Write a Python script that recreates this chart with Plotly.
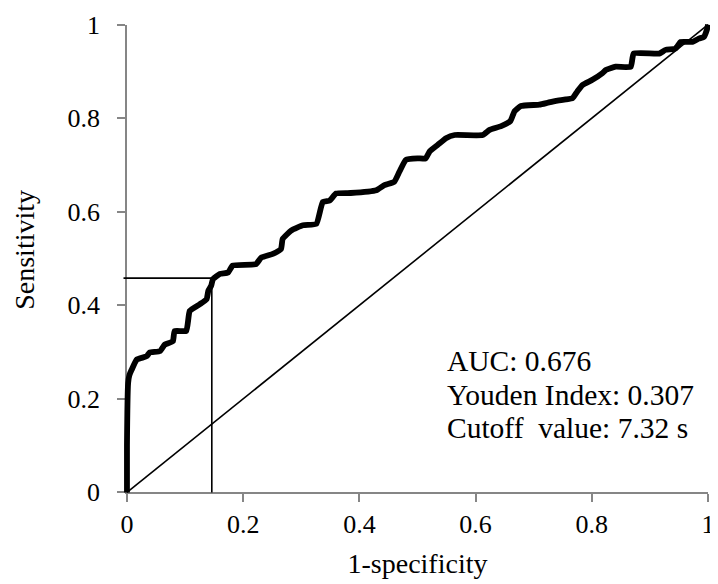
import plotly.graph_objects as go

# ROC curve points (1-specificity, sensitivity)
fpr = [0.0, 0.0, 0.002, 0.004, 0.008, 0.017, 0.034, 0.039, 0.057, 0.065, 0.079, 0.082, 0.102,
       0.108, 0.125, 0.137, 0.140, 0.145, 0.148, 0.160, 0.174, 0.182, 0.222, 0.231, 0.251,
       0.265, 0.268, 0.283, 0.303, 0.326, 0.337, 0.349, 0.360, 0.385, 0.429, 0.443, 0.460,
       0.469, 0.480, 0.500, 0.514, 0.521, 0.535, 0.549, 0.564, 0.612, 0.624, 0.644, 0.660,
       0.667, 0.678, 0.710, 0.724, 0.738, 0.755, 0.767, 0.775, 0.784, 0.801, 0.818, 0.824,
       0.841, 0.867, 0.872, 0.916, 0.927, 0.944, 0.953, 0.973, 0.984, 0.993, 0.998, 1.0]
tpr = [0.0, 0.10, 0.234, 0.250, 0.262, 0.284, 0.291, 0.299, 0.302, 0.316, 0.323, 0.345, 0.345,
       0.388, 0.402, 0.413, 0.431, 0.442, 0.456, 0.467, 0.470, 0.485, 0.488, 0.502, 0.510,
       0.520, 0.542, 0.560, 0.571, 0.574, 0.621, 0.624, 0.639, 0.640, 0.646, 0.657, 0.664,
       0.686, 0.711, 0.714, 0.714, 0.729, 0.743, 0.757, 0.764, 0.764, 0.775, 0.783, 0.794,
       0.815, 0.826, 0.829, 0.833, 0.837, 0.840, 0.843, 0.857, 0.871, 0.882, 0.896, 0.903,
       0.910, 0.910, 0.938, 0.938, 0.946, 0.949, 0.963, 0.963, 0.970, 0.974, 0.989, 1.0]

diag_x = [0.0, 1.0]
diag_y = [0.0, 1.0]

cutoff_fpr = 0.146
cutoff_tpr = 0.458

tick_vals = [0, 0.2, 0.4, 0.6, 0.8, 1]
tick_text = ["0", "0.2", "0.4", "0.6", "0.8", "1"]

annot_lines = ["AUC: 0.676", "Youden Index: 0.307", "Cutoff\u00a0\u00a0value: 7.32 s"]
annot_y = [0.280, 0.209, 0.138]

x_title = "1-specificity"
y_title = "Sensitivity"

FONT = "Liberation Serif, Times New Roman, serif"
AXC = "#868686"
P = 0.012  # padding of the data axes so thick lines are not clipped

fig = go.Figure()

# data traces on x2/y2 (padded range, drawn above the visible axes)
fig.add_trace(go.Scatter(x=diag_x, y=diag_y, mode="lines",
                         line=dict(color="black", width=1.6),
                         xaxis="x2", yaxis="y2", hoverinfo="skip", showlegend=False))
fig.add_trace(go.Scatter(x=[-0.006, cutoff_fpr, cutoff_fpr], y=[cutoff_tpr, cutoff_tpr, 0],
                         mode="lines", line=dict(color="black", width=1.6),
                         xaxis="x2", yaxis="y2", hoverinfo="skip", showlegend=False))
fig.add_trace(go.Scatter(x=fpr, y=tpr, mode="lines",
                         line=dict(color="black", width=5.8, shape="spline", smoothing=0.4),
                         xaxis="x2", yaxis="y2", showlegend=False))
# invisible trace for the visible axes
fig.add_trace(go.Scatter(x=[0, 1], y=[0, 1], mode="markers", marker=dict(opacity=0),
                         xaxis="x", yaxis="y", hoverinfo="skip", showlegend=False))

dom = [P / (1 + 2 * P), (1 + P) / (1 + 2 * P)]

for i, t in enumerate(annot_lines):
    fig.add_annotation(x=0.548, y=annot_y[i], xref="x", yref="y", text=t,
                       showarrow=False, xanchor="left", yanchor="middle",
                       font=dict(family=FONT, size=29.5, color="black"))

# y-axis title as a rotated annotation (the reference centres it above mid-axis)
fig.add_annotation(x=-0.1600, y=0.5178, xref="paper", yref="paper", text=y_title,
                   textangle=-90, showarrow=False, xanchor="center", yanchor="middle",
                   font=dict(family=FONT, size=28, color="black"))

# the page body adds an 8px offset, so the figure is 8px smaller than the window
fig.update_layout(
    width=710, height=576,
    margin=dict(l=112, r=2.5, t=11.4, b=86.4),
    paper_bgcolor="white", plot_bgcolor="rgba(0,0,0,0)",
    font=dict(family=FONT, color="black"),
    xaxis=dict(range=[0, 1], domain=dom, anchor="y", tickvals=tick_vals, ticktext=tick_text,
               automargin=False,
               showgrid=False, zeroline=False, showline=True, linecolor=AXC, linewidth=1.5,
               ticks="outside", ticklen=8, tickcolor=AXC, tickwidth=1.5,
               tickfont=dict(family=FONT, size=26, color="black"),
               title=dict(text=x_title, font=dict(family=FONT, size=28, color="black"),
                          standoff=15)),
    yaxis=dict(range=[0, 1], domain=dom, anchor="x", tickvals=tick_vals, ticktext=tick_text,
               automargin=False,
               showgrid=False, zeroline=False, showline=True, linecolor=AXC, linewidth=1.5,
               ticks="outside", ticklen=8, tickcolor=AXC, tickwidth=1.5,
               ticklabelstandoff=12,
               tickfont=dict(family=FONT, size=26, color="black")),
    xaxis2=dict(range=[-P, 1 + P], domain=[0, 1], anchor="y2", visible=False, automargin=False),
    yaxis2=dict(range=[-P, 1 + P], domain=[0, 1], anchor="x2", visible=False, automargin=False),
)

fig.write_html("out.html")
